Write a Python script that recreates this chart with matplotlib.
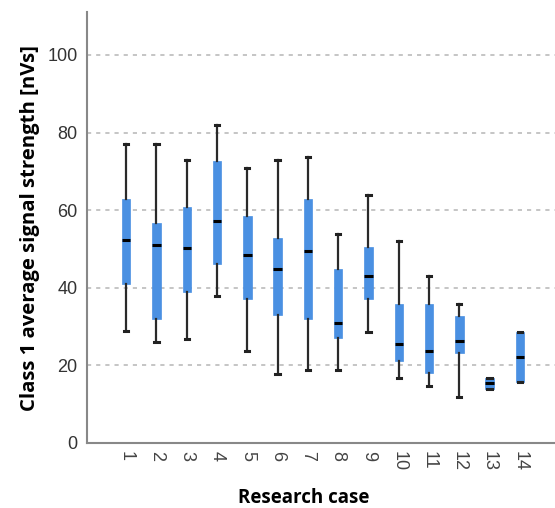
import matplotlib.pyplot as plt

# Werte (nVs)
cases = [str(i) for i in range(1, 15)]
whisker_low = [28.9, 25.9, 26.9, 37.9, 23.8, 17.8, 18.8, 18.8, 28.7, 16.8, 14.8, 11.8, 13.8, 15.8]
q1 = [41.0, 31.9, 38.9, 46.0, 37.0, 32.9, 31.9, 27.0, 37.0, 21.1, 18.0, 23.1, 13.8, 15.8]
median = [52.3, 50.9, 50.3, 57.3, 48.4, 44.8, 49.4, 30.8, 42.9, 25.4, 23.8, 26.4, 15.4, 22.2]
q3 = [62.8, 56.6, 60.7, 72.7, 58.6, 52.8, 62.8, 44.7, 50.6, 35.7, 35.7, 32.6, 16.8, 28.7]
whisker_high = [77.0, 77.0, 72.8, 82.0, 70.9, 72.8, 73.8, 53.8, 64.0, 52.0, 42.9, 35.8, 16.8, 28.7]

stats = []
for i in range(len(cases)):
    stats.append({"label": cases[i], "whislo": whisker_low[i], "q1": q1[i],
                  "med": median[i], "q3": q3[i], "whishi": whisker_high[i], "fliers": []})

fig = plt.figure(figsize=(5.55, 5.08), dpi=100)
ax = fig.add_axes([0.157, 0.128, 0.843, 0.848])

pos = list(range(1, 15))
ax.bxp(stats, positions=pos, widths=0.28, patch_artist=True, showfliers=False,
       boxprops=dict(facecolor="#4a90e2", edgecolor="#4a90e2", linewidth=0.5),
       medianprops=dict(color="black", linewidth=2.2),
       whiskerprops=dict(color="#2a2a2a", linewidth=1.6),
       capprops=dict(color="#222222", linewidth=2.2),
       capwidths=0.14, zorder=3)

ax.set_xlim(-0.29, 15.16)
ax.set_ylim(0, 111)
ax.set_yticks([0, 20, 40, 60, 80, 100])
for y in [20, 40, 60, 80, 100]:
    ax.axhline(y, color="#bbbbbb", linestyle=(0, (2.5, 3)), linewidth=1.2, zorder=1)

ax.spines["top"].set_visible(False)
ax.spines["right"].set_visible(False)
for s in ["left", "bottom"]:
    ax.spines[s].set_color("#888888")
    ax.spines[s].set_linewidth(1.5)

ax.tick_params(axis="y", length=0, pad=7, labelsize=13, labelcolor="#333333")
ax.tick_params(axis="x", length=0, pad=6, labelsize=13, labelcolor="#444444")
for lab in ax.get_yticklabels() + ax.get_xticklabels():
    lab.set_family("Liberation Sans")
ax.set_xticks(pos)
ax.set_xticklabels(cases, rotation=270, va="top", ha="center")

ax.set_ylabel("Class 1 average signal strength [nVs]", fontsize=14.6, fontweight="bold",
              family="Open Sans", labelpad=5)
ax.set_xlabel("Research case", fontsize=13.5, fontweight="bold", family="Open Sans", labelpad=12)
ax.xaxis.label.set_x(0.462)

fig.savefig("out.png", dpi=100)
